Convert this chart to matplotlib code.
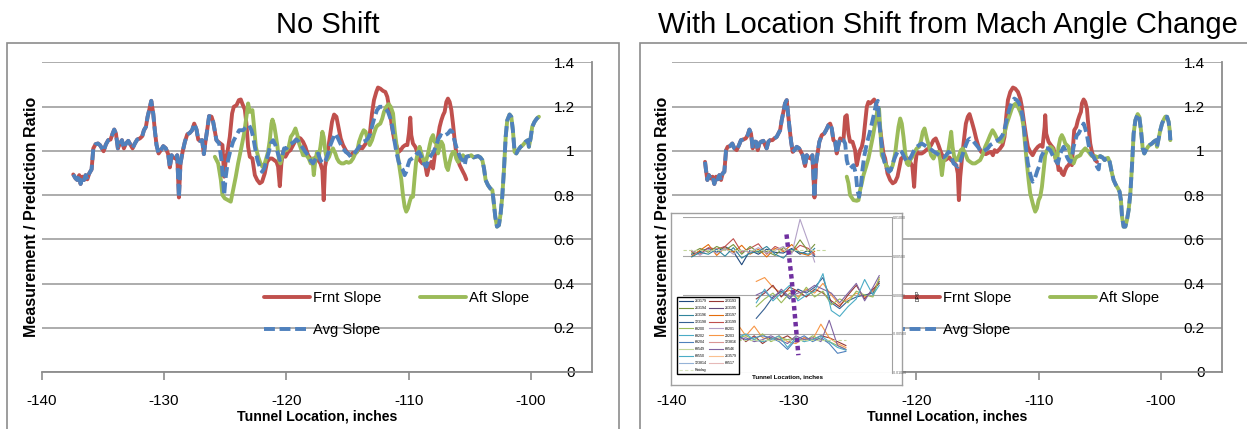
import numpy as np
import matplotlib.pyplot as plt
from matplotlib.lines import Line2D
from matplotlib.patches import Rectangle

# ---- main chart data (tunnel location, ratio) ----
# left panel "No Shift": head is shared by Frnt/Avg, tail by Aft/Avg
L_head = [(-137.42, 0.893), (-137.23, 0.875), (-137.09, 0.868), (-136.93, 0.890), (-136.82, 0.850),
          (-136.68, 0.883), (-136.54, 0.868), (-136.41, 0.890), (-136.27, 0.871), (-136.11, 0.898),
          (-135.92, 0.916), (-135.78, 1.011), (-135.59, 1.030), (-135.40, 1.033), (-135.24, 1.026),
          (-135.07, 1.011), (-134.94, 0.998), (-134.75, 1.029), (-134.56, 1.048), (-134.37, 1.051),
          (-134.20, 1.078), (-134.07, 1.096), (-133.93, 1.078), (-133.77, 1.011), (-133.60, 1.033),
          (-133.44, 1.048), (-133.28, 1.011), (-133.11, 1.033), (-132.92, 1.045), (-132.73, 1.026),
          (-132.57, 1.011), (-132.38, 1.033), (-132.19, 1.051), (-131.97, 1.056), (-131.78, 1.066),
          (-131.64, 1.093), (-131.48, 1.108), (-131.34, 1.154), (-131.21, 1.184), (-131.04, 1.226),
          (-130.88, 1.169), (-130.75, 1.093), (-130.61, 1.026), (-130.44, 0.988), (-130.25, 1.003),
          (-130.06, 1.021), (-129.85, 1.011), (-129.66, 0.985), (-129.52, 0.925), (-129.38, 0.980),
          (-129.25, 0.970), (-129.06, 0.965), (-128.92, 0.980), (-128.78, 0.789), (-128.65, 0.943),
          (-128.48, 0.995), (-128.29, 1.041), (-128.10, 1.074), (-127.89, 1.081), (-127.70, 1.093),
          (-127.53, 1.123), (-127.34, 1.096), (-127.20, 1.051), (-127.07, 1.045), (-126.88, 1.048),
          (-126.74, 0.985), (-126.61, 1.041), (-126.47, 1.093), (-126.31, 1.157), (-126.11, 1.154),
          (-125.98, 1.131), (-125.81, 1.078), (-125.71, 1.048)]
L_frnt = [(-125.57, 1.041), (-125.38, 1.033), (-125.22, 1.026), (-125.08, 0.883), (-124.95, 0.958),
          (-124.81, 0.995), (-124.62, 1.063), (-124.43, 1.169), (-124.29, 1.199), (-124.07, 1.206),
          (-123.88, 1.229), (-123.72, 1.232), (-123.58, 1.211), (-123.39, 1.187), (-123.26, 1.123),
          (-123.12, 1.018), (-122.98, 0.973), (-122.77, 0.965), (-122.57, 0.890), (-122.38, 0.868),
          (-122.17, 0.853), (-121.98, 0.860), (-121.76, 0.898), (-121.57, 0.950), (-121.35, 0.965),
          (-121.16, 0.965), (-120.99, 0.958), (-120.80, 0.950), (-120.67, 0.928), (-120.53, 0.840),
          (-120.40, 0.943), (-120.26, 0.995), (-120.07, 0.973), (-119.85, 0.995), (-119.66, 1.003),
          (-119.44, 1.026), (-119.23, 1.048), (-119.03, 1.060), (-118.84, 1.056), (-118.63, 1.041),
          (-118.44, 1.018), (-118.22, 0.980), (-118.03, 0.965), (-117.81, 0.961), (-117.62, 0.970),
          (-117.40, 0.958), (-117.21, 0.943), (-117.05, 0.913), (-116.94, 0.777), (-116.83, 0.928),
          (-116.67, 0.973), (-116.45, 1.056), (-116.26, 1.131), (-116.09, 1.164), (-115.90, 1.154),
          (-115.74, 1.108), (-115.55, 1.056), (-115.36, 1.026), (-115.14, 1.003), (-114.95, 0.988),
          (-114.73, 0.980), (-114.54, 0.991), (-114.35, 0.988), (-114.13, 1.003), (-113.94, 1.018),
          (-113.78, 1.011), (-113.59, 1.026), (-113.40, 1.041), (-113.18, 1.071), (-112.99, 1.169),
          (-112.83, 1.229), (-112.64, 1.266), (-112.50, 1.286), (-112.31, 1.281), (-112.09, 1.271),
          (-111.90, 1.266), (-111.74, 1.244), (-111.55, 1.184), (-111.36, 1.108), (-111.19, 1.056),
          (-111.00, 1.026), (-110.81, 0.995), (-110.65, 1.003), (-110.46, 1.018), (-110.27, 1.026),
          (-110.10, 1.026), (-109.97, 1.078), (-109.86, 1.150), (-109.78, 1.071), (-109.64, 1.033),
          (-109.45, 1.018), (-109.29, 0.995), (-109.10, 0.958), (-108.87, 0.943), (-108.68, 0.950),
          (-108.49, 0.890), (-108.33, 0.928), (-108.14, 0.950), (-108.00, 0.920), (-107.87, 0.973),
          (-107.73, 1.018), (-107.59, 1.063), (-107.46, 1.108), (-107.32, 1.138), (-107.18, 1.161),
          (-107.05, 1.176), (-106.91, 1.221), (-106.78, 1.236), (-106.64, 1.221), (-106.50, 1.184),
          (-106.37, 1.123), (-106.23, 1.048), (-106.10, 0.988), (-105.96, 0.958), (-105.82, 0.935),
          (-105.69, 0.920), (-105.55, 0.905), (-105.41, 0.890), (-105.28, 0.871)]
L_aft = [(-125.84, 0.973), (-125.57, 0.943), (-125.35, 0.868), (-125.22, 0.800), (-125.03, 0.785),
         (-124.76, 0.777), (-124.54, 0.770), (-124.35, 0.822), (-124.13, 0.883), (-123.94, 0.943),
         (-123.66, 1.018), (-123.45, 1.078), (-123.26, 1.154), (-123.12, 1.214), (-122.98, 1.176),
         (-122.77, 1.184), (-122.66, 1.123), (-122.49, 1.018), (-122.30, 0.973), (-122.11, 0.943),
         (-121.95, 0.928), (-121.81, 0.935), (-121.68, 0.958), (-121.49, 0.995), (-121.35, 1.048),
         (-121.21, 1.123), (-121.13, 1.141), (-120.99, 1.116), (-120.86, 1.071), (-120.72, 1.018),
         (-120.59, 0.958), (-120.48, 0.943), (-120.34, 0.973), (-120.18, 1.003), (-119.99, 1.003),
         (-119.80, 1.018), (-119.63, 1.063), (-119.44, 1.078), (-119.25, 1.101), (-119.09, 1.071),
         (-118.95, 1.033), (-118.76, 1.003), (-118.63, 0.980), (-118.35, 0.980), (-118.16, 0.965),
         (-118.00, 0.943), (-117.86, 0.965), (-117.75, 0.890), (-117.62, 0.958), (-117.48, 0.995),
         (-117.35, 0.973), (-117.21, 1.018), (-117.05, 1.086), (-116.94, 1.063), (-116.80, 0.995),
         (-116.67, 0.958), (-116.50, 0.973), (-116.37, 0.995), (-116.18, 1.011), (-115.99, 0.988),
         (-115.85, 0.965), (-115.69, 0.950), (-115.49, 0.943), (-115.30, 0.943), (-115.09, 0.950),
         (-114.90, 0.946), (-114.73, 0.950), (-114.54, 0.965), (-114.35, 0.988), (-114.21, 0.995),
         (-114.05, 1.041), (-113.86, 1.071), (-113.67, 1.093), (-113.51, 1.086), (-113.37, 1.056),
         (-113.18, 1.026), (-112.99, 1.048), (-112.83, 1.078), (-112.64, 1.108), (-112.50, 1.116),
         (-112.31, 1.123), (-112.15, 1.146), (-112.01, 1.176), (-111.82, 1.199), (-111.63, 1.211),
         (-111.46, 1.199), (-111.27, 1.169), (-111.14, 1.093), (-111.00, 1.033), (-110.87, 0.973),
         (-110.73, 0.920), (-110.59, 0.868), (-110.46, 0.800), (-110.32, 0.747), (-110.19, 0.725),
         (-110.05, 0.740), (-109.91, 0.770), (-109.78, 0.792), (-109.64, 0.792), (-109.50, 0.883),
         (-109.37, 0.958), (-109.23, 0.995), (-109.10, 1.018), (-108.87, 0.973), (-108.68, 0.943),
         (-108.55, 0.958), (-108.41, 0.988), (-108.27, 1.026), (-108.14, 1.056), (-108.00, 1.071),
         (-107.87, 1.041), (-107.73, 1.033), (-107.59, 0.988), (-107.46, 1.018), (-107.32, 1.041),
         (-107.18, 1.026), (-107.05, 0.973), (-106.91, 0.928), (-106.78, 0.913), (-106.64, 0.950),
         (-106.50, 0.980), (-106.37, 0.995), (-106.23, 0.995), (-106.10, 0.965), (-105.96, 0.950),
         (-105.82, 0.958), (-105.69, 0.970), (-105.55, 0.980), (-105.41, 0.965)]
L_avg = [(-125.49, 1.033), (-125.30, 0.958), (-125.17, 0.868), (-125.08, 0.800), (-124.95, 0.883),
         (-124.76, 0.958), (-124.56, 1.003), (-124.35, 1.041), (-124.07, 1.071), (-123.85, 1.093),
         (-123.53, 1.093), (-123.26, 1.108), (-123.04, 1.116), (-122.85, 1.093), (-122.71, 1.063),
         (-122.52, 1.003), (-122.36, 0.958), (-122.17, 0.928), (-121.98, 0.905), (-121.81, 0.920),
         (-121.62, 0.958), (-121.43, 0.995), (-121.27, 1.033), (-121.08, 1.048), (-120.89, 1.026),
         (-120.72, 0.995), (-120.53, 0.958), (-120.34, 0.973), (-120.18, 1.011), (-119.99, 1.011),
         (-119.80, 1.026), (-119.58, 1.033), (-119.36, 1.041), (-119.17, 1.051), (-118.98, 1.041),
         (-118.82, 1.026), (-118.63, 1.011), (-118.44, 0.995), (-118.22, 0.980), (-118.03, 0.958),
         (-117.81, 0.943), (-117.59, 0.965), (-117.40, 0.988), (-117.21, 0.958), (-116.99, 0.943),
         (-116.77, 0.958), (-116.58, 0.988), (-116.39, 1.026), (-116.18, 1.056), (-115.99, 1.078),
         (-115.77, 1.056), (-115.58, 1.033), (-115.36, 1.011), (-115.14, 0.995), (-114.95, 0.988),
         (-114.73, 0.973), (-114.54, 0.980), (-114.35, 0.995), (-114.13, 1.011), (-113.94, 1.026),
         (-113.72, 1.041), (-113.51, 1.045), (-113.32, 1.056), (-113.13, 1.078), (-112.96, 1.116),
         (-112.77, 1.154), (-112.58, 1.184), (-112.36, 1.199), (-112.15, 1.199), (-111.90, 1.191),
         (-111.68, 1.176), (-111.49, 1.146), (-111.33, 1.108), (-111.19, 1.056), (-111.00, 0.995),
         (-110.81, 0.950), (-110.65, 0.928), (-110.46, 0.913), (-110.32, 0.890), (-110.19, 0.905),
         (-110.05, 0.935), (-109.91, 0.958), (-109.72, 0.965), (-109.50, 0.973), (-109.31, 0.988),
         (-109.15, 0.995), (-108.96, 0.973), (-108.77, 0.943), (-108.55, 0.928), (-108.33, 0.965),
         (-108.14, 0.980), (-107.95, 0.995), (-107.73, 1.026), (-107.54, 1.056), (-107.37, 1.071),
         (-107.18, 1.063), (-106.99, 1.071), (-106.78, 1.078), (-106.58, 1.093), (-106.42, 1.086),
         (-106.29, 1.056), (-106.10, 1.018), (-105.90, 0.988), (-105.74, 0.965), (-105.55, 0.958),
         (-105.41, 0.935)]
L_tail = [(-105.28, 0.973), (-105.06, 0.976), (-104.87, 0.980), (-104.68, 0.970), (-104.52, 0.973),
          (-104.32, 0.976), (-104.13, 0.970), (-103.97, 0.958), (-103.83, 0.920), (-103.70, 0.868),
          (-103.51, 0.845), (-103.32, 0.830), (-103.15, 0.822), (-103.04, 0.770), (-102.91, 0.702),
          (-102.77, 0.657), (-102.61, 0.664), (-102.47, 0.717), (-102.34, 0.792), (-102.20, 0.913),
          (-102.06, 1.063), (-101.93, 1.138), (-101.74, 1.164), (-101.60, 1.154), (-101.47, 1.093),
          (-101.33, 0.995), (-101.19, 0.988), (-101.00, 1.006), (-100.84, 1.018), (-100.65, 1.026),
          (-100.43, 1.041), (-100.24, 1.048), (-100.16, 1.018), (-100.02, 1.056), (-99.89, 1.108),
          (-99.70, 1.131), (-99.51, 1.146), (-99.34, 1.154)]

# right panel "With Location Shift from Mach Angle Change"
R_head = [(-137.28, 0.950), (-137.20, 0.913), (-137.09, 0.868), (-136.96, 0.890), (-136.82, 0.875),
          (-136.66, 0.883), (-136.52, 0.850), (-136.38, 0.883), (-136.25, 0.871), (-136.11, 0.890),
          (-135.97, 0.868), (-135.84, 0.898), (-135.70, 0.905), (-135.56, 1.003), (-135.43, 1.018),
          (-135.24, 1.021), (-135.05, 1.033), (-134.88, 1.011), (-134.69, 1.003), (-134.50, 1.026),
          (-134.34, 1.048), (-134.15, 1.051), (-133.95, 1.056), (-133.79, 1.071), (-133.65, 1.096),
          (-133.52, 1.078), (-133.38, 1.011), (-133.24, 1.041), (-133.11, 1.041), (-132.97, 1.003),
          (-132.84, 1.033), (-132.70, 1.041), (-132.51, 1.045), (-132.37, 1.026), (-132.24, 1.011),
          (-132.10, 1.041), (-131.96, 1.048), (-131.77, 1.048), (-131.61, 1.056), (-131.42, 1.063),
          (-131.28, 1.078), (-131.14, 1.093), (-131.01, 1.138), (-130.87, 1.176), (-130.74, 1.214),
          (-130.60, 1.229), (-130.52, 1.184), (-130.38, 1.108), (-130.24, 1.041), (-130.11, 0.995),
          (-129.97, 1.003), (-129.78, 1.018), (-129.59, 1.011), (-129.43, 0.995), (-129.29, 0.980),
          (-129.10, 0.931), (-128.96, 0.980), (-128.83, 0.970), (-128.63, 0.965), (-128.50, 0.980),
          (-128.33, 0.789), (-128.20, 0.943), (-128.06, 0.995), (-127.93, 1.041), (-127.73, 1.071),
          (-127.54, 1.078), (-127.38, 1.093), (-127.19, 1.116), (-127.05, 1.123), (-126.92, 1.101),
          (-126.78, 1.048), (-126.64, 1.041), (-126.51, 0.988), (-126.37, 1.026), (-126.23, 1.056),
          (-126.10, 1.048), (-125.96, 1.048)]
R_frnt = [(-125.82, 1.154), (-125.69, 1.161), (-125.55, 1.078), (-125.42, 1.041), (-125.22, 1.041),
          (-125.01, 1.003), (-124.87, 0.935), (-124.73, 0.973), (-124.60, 1.003), (-124.46, 1.018),
          (-124.32, 1.056), (-124.19, 1.123), (-124.05, 1.199), (-123.92, 1.221), (-123.78, 1.214),
          (-123.64, 1.221), (-123.45, 1.232), (-123.29, 1.214), (-123.10, 1.154), (-122.91, 1.078),
          (-122.69, 0.988), (-122.55, 0.965), (-122.36, 0.898), (-122.14, 0.868), (-121.93, 0.853),
          (-121.73, 0.860), (-121.54, 0.883), (-121.38, 0.928), (-121.24, 0.965), (-121.05, 0.973),
          (-120.92, 0.973), (-120.72, 0.965), (-120.51, 0.950), (-120.32, 0.928), (-120.18, 0.837),
          (-120.07, 0.943), (-119.96, 0.995), (-119.77, 0.988), (-119.55, 0.988), (-119.36, 0.995),
          (-119.20, 1.003), (-119.01, 1.011), (-118.79, 1.026), (-118.60, 1.048), (-118.41, 1.056),
          (-118.19, 1.026), (-118.00, 0.995), (-117.83, 0.973), (-117.64, 0.958), (-117.45, 0.965),
          (-117.29, 0.970), (-117.15, 0.958), (-116.96, 0.950), (-116.74, 0.935), (-116.61, 0.898),
          (-116.52, 0.777), (-116.41, 0.883), (-116.28, 0.958), (-116.14, 1.033), (-115.95, 1.123),
          (-115.79, 1.154), (-115.65, 1.166), (-115.46, 1.131), (-115.27, 1.093), (-115.11, 1.056),
          (-114.91, 1.018), (-114.70, 0.995), (-114.50, 0.988), (-114.31, 0.985), (-114.10, 0.991),
          (-113.90, 0.995), (-113.74, 0.980), (-113.60, 1.003), (-113.41, 0.995), (-113.14, 1.011),
          (-112.95, 1.026), (-112.79, 1.063), (-112.65, 1.154), (-112.51, 1.229), (-112.32, 1.266),
          (-112.10, 1.286), (-111.91, 1.281), (-111.69, 1.266), (-111.50, 1.236), (-111.37, 1.199),
          (-111.18, 1.123), (-111.04, 1.071), (-110.88, 1.018), (-110.69, 0.995), (-110.49, 0.980),
          (-110.28, 1.003), (-110.06, 1.018), (-109.87, 1.026), (-109.68, 1.018), (-109.51, 1.108),
          (-109.46, 1.161), (-109.38, 1.078), (-109.19, 1.041), (-109.00, 1.026), (-108.78, 1.011),
          (-108.59, 0.958), (-108.42, 0.935), (-108.37, 0.913), (-108.23, 0.920), (-108.10, 0.898),
          (-107.96, 0.890), (-107.82, 0.913), (-107.69, 0.928), (-107.55, 0.935), (-107.41, 0.950),
          (-107.28, 0.935), (-107.19, 1.018), (-107.09, 1.093), (-106.92, 1.108), (-106.79, 1.138),
          (-106.65, 1.161), (-106.54, 1.176), (-106.46, 1.214), (-106.32, 1.232), (-106.19, 1.221),
          (-106.05, 1.191), (-105.97, 1.138), (-105.86, 1.078), (-105.78, 1.033), (-105.64, 0.995),
          (-105.50, 0.973), (-105.37, 0.958), (-105.23, 0.950)]
R_aft = [(-125.69, 0.883), (-125.55, 0.853), (-125.42, 0.800), (-125.14, 0.777), (-124.87, 0.774),
         (-124.73, 0.777), (-124.60, 0.822), (-124.46, 0.853), (-124.32, 0.890), (-124.11, 0.928),
         (-123.92, 0.965), (-123.72, 1.018), (-123.56, 1.063), (-123.42, 1.108), (-123.31, 1.146),
         (-123.18, 1.184), (-123.05, 1.191), (-122.95, 1.100), (-122.83, 0.980), (-122.63, 0.958),
         (-122.47, 0.935), (-122.28, 0.920), (-122.09, 0.913), (-121.93, 0.935), (-121.73, 0.988),
         (-121.60, 1.048), (-121.46, 1.108), (-121.32, 1.146), (-121.19, 1.123), (-121.05, 1.063),
         (-120.92, 0.995), (-120.78, 0.943), (-120.64, 0.935), (-120.51, 0.958), (-120.32, 0.973),
         (-120.15, 0.995), (-119.96, 1.011), (-119.77, 1.018), (-119.61, 1.048), (-119.47, 1.086),
         (-119.33, 1.101), (-119.14, 1.056), (-118.95, 1.018), (-118.79, 0.980), (-118.60, 0.965),
         (-118.41, 0.988), (-118.19, 0.995), (-118.05, 0.958), (-117.91, 0.890), (-117.78, 0.950),
         (-117.56, 0.973), (-117.37, 1.003), (-117.23, 1.056), (-117.15, 1.086), (-117.04, 1.018),
         (-116.88, 0.965), (-116.69, 0.958), (-116.50, 0.980), (-116.36, 1.003), (-116.20, 1.011),
         (-116.01, 0.988), (-115.79, 0.958), (-115.60, 0.950), (-115.41, 0.943), (-115.19, 0.943),
         (-115.00, 0.950), (-114.78, 0.958), (-114.59, 0.980), (-114.37, 1.018), (-114.18, 1.041),
         (-113.96, 1.071), (-113.77, 1.093), (-113.60, 1.078), (-113.41, 1.056), (-113.22, 1.041),
         (-113.00, 1.041), (-112.87, 1.063), (-112.73, 1.093), (-112.60, 1.123), (-112.46, 1.146),
         (-112.32, 1.169), (-112.19, 1.191), (-112.05, 1.206), (-111.86, 1.214), (-111.69, 1.199),
         (-111.50, 1.176), (-111.37, 1.154), (-111.23, 1.108), (-111.09, 1.018), (-110.96, 0.943),
         (-110.82, 0.868), (-110.69, 0.807), (-110.55, 0.777), (-110.41, 0.747), (-110.28, 0.725),
         (-110.14, 0.740), (-110.00, 0.777), (-109.87, 0.792), (-109.73, 0.837), (-109.59, 0.913),
         (-109.46, 0.980), (-109.32, 1.003), (-109.05, 1.018), (-108.86, 1.011), (-108.69, 0.980),
         (-108.50, 0.950), (-108.37, 1.018), (-108.23, 1.056), (-108.10, 1.071), (-107.96, 1.056),
         (-107.82, 1.033), (-107.69, 1.026), (-107.55, 1.018), (-107.41, 0.980), (-107.28, 0.958),
         (-107.14, 0.943), (-107.00, 0.965), (-106.87, 0.973), (-106.73, 0.976), (-106.59, 0.980),
         (-106.46, 0.995), (-106.32, 1.003), (-106.19, 1.011), (-106.05, 1.003), (-105.91, 0.995),
         (-105.78, 0.985), (-105.64, 0.976), (-105.50, 0.973), (-105.37, 0.976), (-105.23, 0.970)]
R_avg = [(-125.82, 1.033), (-125.69, 0.958), (-125.55, 0.928), (-125.42, 0.920), (-125.14, 0.935),
         (-124.95, 0.898), (-124.82, 0.822), (-124.68, 0.792), (-124.54, 0.837), (-124.41, 0.913),
         (-124.27, 0.973), (-124.05, 1.033), (-123.83, 1.078), (-123.64, 1.123), (-123.45, 1.169),
         (-123.29, 1.214), (-123.15, 1.226), (-123.02, 1.123), (-122.88, 1.048), (-122.74, 0.988),
         (-122.61, 0.950), (-122.42, 0.920), (-122.23, 0.905), (-122.09, 0.913), (-121.93, 0.943),
         (-121.73, 0.973), (-121.54, 0.995), (-121.38, 1.003), (-121.19, 0.995), (-121.00, 0.973),
         (-120.78, 0.950), (-120.59, 0.958), (-120.37, 0.980), (-120.18, 1.003), (-119.96, 1.018),
         (-119.77, 1.026), (-119.55, 1.033), (-119.36, 1.026), (-119.14, 1.018), (-118.92, 1.011),
         (-118.73, 1.003), (-118.54, 0.995), (-118.32, 0.988), (-118.13, 0.980), (-117.97, 0.973),
         (-117.78, 0.970), (-117.56, 0.980), (-117.37, 0.995), (-117.23, 0.988), (-117.10, 0.965),
         (-116.96, 0.943), (-116.77, 0.935), (-116.61, 0.928), (-116.47, 0.943), (-116.33, 0.965),
         (-116.14, 0.995), (-115.95, 1.026), (-115.79, 1.048), (-115.60, 1.056), (-115.41, 1.048),
         (-115.19, 1.033), (-114.97, 1.018), (-114.78, 1.003), (-114.59, 0.995), (-114.37, 1.003),
         (-114.15, 1.011), (-113.96, 1.026), (-113.74, 1.033), (-113.55, 1.041), (-113.33, 1.048),
         (-113.14, 1.056), (-112.95, 1.071), (-112.81, 1.093), (-112.68, 1.123), (-112.54, 1.161),
         (-112.38, 1.191), (-112.19, 1.221), (-111.99, 1.236), (-111.78, 1.229), (-111.59, 1.214),
         (-111.45, 1.191), (-111.31, 1.154), (-111.18, 1.093), (-111.04, 1.018), (-110.90, 0.950),
         (-110.77, 0.913), (-110.63, 0.883), (-110.49, 0.860), (-110.36, 0.868), (-110.22, 0.890),
         (-110.09, 0.913), (-109.92, 0.935), (-109.79, 0.973), (-109.59, 0.995), (-109.40, 1.011),
         (-109.24, 1.011), (-109.05, 1.003), (-108.86, 0.980), (-108.64, 0.958), (-108.42, 0.943),
         (-108.23, 0.988), (-108.10, 1.003), (-107.96, 1.018), (-107.82, 1.003), (-107.69, 0.973),
         (-107.55, 0.958), (-107.41, 0.950), (-107.28, 0.973), (-107.14, 1.018), (-107.00, 1.048),
         (-106.87, 1.071), (-106.73, 1.078), (-106.59, 1.093), (-106.46, 1.108), (-106.32, 1.123),
         (-106.19, 1.101), (-106.05, 1.071), (-105.91, 1.026), (-105.78, 0.995), (-105.64, 0.980),
         (-105.50, 0.973), (-105.37, 0.958), (-105.23, 0.928), (-105.09, 0.916)]
R_tail = [(-104.96, 0.976), (-104.77, 0.970), (-104.60, 0.958), (-104.47, 0.965), (-104.33, 0.968),
          (-104.19, 0.950), (-104.00, 0.898), (-103.87, 0.868), (-103.68, 0.845), (-103.51, 0.830),
          (-103.38, 0.815), (-103.27, 0.777), (-103.18, 0.702), (-103.05, 0.657), (-102.91, 0.657),
          (-102.78, 0.687), (-102.64, 0.732), (-102.50, 0.807), (-102.37, 0.928), (-102.23, 1.078),
          (-102.09, 1.138), (-101.90, 1.166), (-101.77, 1.154), (-101.63, 1.093), (-101.49, 1.011),
          (-101.36, 0.988), (-101.22, 1.003), (-101.06, 1.018), (-100.92, 1.026), (-100.73, 1.033),
          (-100.59, 1.041), (-100.40, 1.048), (-100.32, 1.018), (-100.18, 1.056), (-100.05, 1.093),
          (-99.91, 1.123), (-99.77, 1.141), (-99.64, 1.154), (-99.50, 1.154), (-99.37, 1.131),
          (-99.28, 1.093), (-99.23, 1.048)]

x_ticks = [-140, -130, -120, -110, -100]
x_labels = ['-140', '-130', '-120', '-110', '-100']
y_ticks = [0, 0.2, 0.4, 0.6, 0.8, 1.0, 1.2, 1.4]
y_labels = ['0', '0.2', '0.4', '0.6', '0.8', '1', '1.2', '1.4']

# ---- pasted inset picture (DP/P runs, three bands) ----
ins1_x = [4, 8, 12, 16, 20, 24, 28, 32, 36, 40, 44, 48, 52, 56, 60, 63]
ins1_a = [1.05, 1.12, 1.20, 1.10, 1.25, 1.12, 0.78, 1.15, 1.05, 1.18, 1.10, 1.08, 1.20, 1.05, 1.15, 1.00]
ins1_b = [1.00, 1.15, 1.30, 1.02, 1.22, 1.10, 1.28, 1.05, 1.18, 0.98, 1.20, 1.12, 1.30, 1.08, 1.02, 1.12]
ins1_c = [1.12, 1.05, 1.22, 1.18, 1.25, 1.45, 1.10, 1.20, 1.32, 1.05, 1.25, 1.15, 1.10, 1.28, 1.20, 1.05]
ins1_d = [1.08, 1.20, 1.10, 1.25, 1.15, 1.30, 1.05, 1.25, 1.10, 1.12, 1.02, 1.22, 1.10, 1.42, 1.12, 1.30]
ins1_e = [1.15, 1.02, 1.18, 1.08, 1.20, 1.05, 1.15, 1.10, 1.22, 1.08, 1.15, 1.25, 1.05, 1.95, 1.35, 0.85]
ins1_f = [0.98, 1.10, 1.05, 1.18, 1.00, 1.22, 0.95, 1.08, 1.12, 1.25, 1.05, 0.95, 1.18, 1.10, 1.05, 1.20]
ins2_x = [35, 39, 43, 47, 51, 55, 59, 63, 67, 71, 75, 79, 83, 87, 91, 94]
ins2_a = [0.35, 0.45, 0.20, 0.05, 0.12, -0.05, 0.15, 0.05, 0.30, 0.00, -0.25, -0.10, 0.05, -0.05, 0.10, 0.40]
ins2_b = [-0.60, -0.35, -0.05, 0.10, -0.10, 0.15, 0.05, 0.20, 0.45, -0.20, -0.35, -0.15, -0.05, 0.00, 0.05, 0.35]
ins2_c = [-0.10, 0.05, 0.25, -0.05, 0.20, 0.10, -0.05, 0.15, 0.05, -0.15, -0.30, 0.00, 0.25, -0.10, 0.15, 0.30]
ins2_d = [-0.30, -0.10, 0.05, -0.20, 0.05, -0.10, 0.20, -0.05, 0.10, -0.25, -0.10, -0.20, 0.10, 0.00, -0.05, 0.45]
ins2_e = [0.00, 0.10, -0.10, 0.15, -0.05, 0.05, 0.10, 0.25, 0.15, 0.05, -0.20, 0.05, 0.30, -0.15, 0.20, 0.50]
ins2_f = [-0.20, 0.15, -0.15, 0.05, 0.25, -0.15, 0.00, 0.10, 0.55, -0.40, -0.55, -0.30, -0.10, 0.40, 0.00, 0.25]
ins3_x = [26, 30, 34, 38, 42, 46, 50, 54, 58, 62, 66, 70, 74, 78]
ins3_a = [-1.00, -1.20, -1.05, -1.25, -1.10, -1.15, -1.05, -1.20, -1.10, -1.15, -1.05, -1.10, -1.20, -1.30]
ins3_b = [-0.75, -1.05, -0.80, -1.10, -1.15, -1.05, -1.20, -1.25, -1.10, -1.15, -0.75, -1.10, -1.25, -1.35]
ins3_c = [-1.10, -1.05, -1.15, -1.00, -1.20, -1.10, -1.15, -1.10, -1.20, -1.05, -1.15, -1.20, -1.30, -1.40]
ins3_d = [-1.05, -1.15, -1.10, -1.05, -1.10, -1.20, -1.40, -1.15, -1.05, -1.20, -1.10, -1.25, -1.50, -1.45]
ins3_e = [-1.15, -1.10, -1.20, -1.15, -1.05, -1.15, -1.25, -1.05, -1.15, -1.10, -1.20, -0.65, -1.30, -1.40]
ins3_f = [-1.10, -1.00, -1.15, -1.20, -1.15, -1.05, -1.35, -1.10, -1.20, -1.15, -1.05, -1.20, -1.35, -1.42]
ratdag_top = ([0, 69], [1.17, 1.17])
ratdag_bot = ([26, 78], [-1.16, -1.16])
shift_path = ([49.5, 52.0, 55.2], [1.56, 0.40, -1.55])
ins_yticks = [-2, -1, 0, 1, 2]
ins_ylabels = ['-0.01000', '-0.00500', '0.00000', '0.00500', '0.01000']
run_labels = ['263179', '263194', '263196', '123198', '69200', '69202', '69204', '69549', '69550',
              '123814', 'Ratdag', '223193', '263195', '243197', '263199', '69201', '29203', '123816',
              '69546', '263579', '69517']
run_colors = ['#1F497D', '#77933C', '#31859C', '#366092', '#9BBB59', '#4BACC6', '#4F81BD', '#C3D69B',
              '#4BACC6', '#95B3D7', '#D7E4BD', '#953735', '#604A7B', '#E46C0A', '#C0504D', '#B3A2C7',
              '#F79646', '#D99694', '#8064A2', '#FAC090', '#E6B9B8']

RED, GREEN, BLUE = '#C0504D', '#9BBB59', '#4F81BD'
GRID = '#A6A6A6'
plt.rcParams['font.family'] = ['Liberation Sans', 'DejaVu Sans']

fig = plt.figure(figsize=(12.47, 4.29), dpi=100)

# outer chart-area frames
fig.add_artist(Rectangle((0.006, -0.05), 0.49, 0.95, transform=fig.transFigure,
                         fill=False, ec='#8C8C8C', lw=1.2))
fig.add_artist(Rectangle((0.5132, -0.05), 0.5, 0.95, transform=fig.transFigure,
                         fill=False, ec='#8C8C8C', lw=1.2))


def xy(pts):
    a = np.array(pts)
    return a[:, 0], a[:, 1]


def panel(left, head, frnt, aft, avg, tail):
    ax = fig.add_axes([left, 0.1329, 0.4413, 0.7226])
    hx, hy = xy(head)
    fx, fy = xy(frnt)
    gx, gy = xy(aft)
    vx, vy = xy(avg)
    tx, ty = xy(tail)
    kw = dict(lw=2.8, solid_joinstyle='round', solid_capstyle='round')
    l1, = ax.plot(np.r_[hx, fx], np.r_[hy, fy], color=RED, label='Frnt Slope', **kw)
    l2, = ax.plot(np.r_[gx, tx], np.r_[gy, ty], color=GREEN, label='Aft Slope', **kw)
    l3, = ax.plot(np.r_[hx, vx, tx], np.r_[hy, vy, ty], color=BLUE, lw=2.8,
                  ls=(0, (2.8, 1.2)), dash_capstyle='butt', label='Avg Slope')
    ax.set_xlim(-140, -95)
    ax.set_ylim(0, 1.4015)
    for s in ['left', 'top']:
        ax.spines[s].set_visible(False)
    for s in ['bottom', 'right']:
        ax.spines[s].set_color('#8C8C8C')
        ax.spines[s].set_linewidth(1.3)
    ax.set_xticks(x_ticks)
    ax.set_xticklabels(x_labels)
    ax.set_yticks(y_ticks)
    ax.set_yticklabels(y_labels)
    ax.yaxis.tick_right()
    ax.tick_params(axis='x', direction='out', length=6, width=1.2, color='#8C8C8C',
                   labelsize=11, pad=10)
    ax.tick_params(axis='y', length=0, labelsize=11, pad=-12.5)
    for t in ax.yaxis.get_major_ticks():
        t.label2.set_horizontalalignment('right')
    ax.grid(axis='y', color=GRID, lw=1.3)
    ax.set_axisbelow(True)
    ax.yaxis.set_label_position('left')
    ax.set_ylabel('Measurement / Prediction Ratio', fontsize=11.5, fontweight='bold')
    ax.yaxis.set_label_coords(-0.004, 0.5)
    ax.set_xlabel('Tunnel Location, inches', fontsize=10.2, fontweight='bold')
    ax.xaxis.set_label_coords(0.5, -0.122)
    ax.legend(handles=[l1, l3, l2], ncol=2, loc='upper left', bbox_to_anchor=(0.404, 0.26),
              frameon=False, fontsize=10.6, borderpad=0, borderaxespad=0, handlelength=3.1,
              handletextpad=0.25, columnspacing=2.6, labelspacing=1.2)
    return ax


axL = panel(0.03344, L_head, L_frnt, L_aft, L_avg, L_tail)
axR = panel(0.5387, R_head, R_frnt, R_aft, R_avg, R_tail)

fig.text(0.2626, 0.923, 'No Shift', ha='center', va='baseline', fontsize=21)
fig.text(0.7598, 0.923, 'With Location Shift from Mach Angle Change', ha='center',
         va='baseline', fontsize=21)

# inset picture on the right panel
box = fig.add_axes([0.5378, 0.1026, 0.1852, 0.4009], zorder=5)
box.set_xticks([])
box.set_yticks([])
box.set_facecolor('white')
for s in box.spines.values():
    s.set_color('#A0A0A0')
    s.set_linewidth(1)

ins = fig.add_axes([0.5480, 0.1312, 0.1671, 0.3622], zorder=6)
ins.set_facecolor('none')
ins.set_xlim(0, 100)
ins.set_ylim(-2, 2)
bands = [(ins1_x, [ins1_a, ins1_b, ins1_c, ins1_d, ins1_e, ins1_f],
          ['#1F497D', '#E46C0A', '#C0504D', '#77933C', '#B3A2C7', '#31859C']),
         (ins2_x, [ins2_a, ins2_b, ins2_c, ins2_d, ins2_e, ins2_f],
          ['#F79646', '#366092', '#953735', '#9BBB59', '#8064A2', '#4BACC6']),
         (ins3_x, [ins3_a, ins3_b, ins3_c, ins3_d, ins3_e, ins3_f],
          ['#953735', '#F79646', '#9BBB59', '#4F81BD', '#8064A2', '#4BACC6'])]
for bx, series, cols in bands:
    for vals, c in zip(series, cols):
        ins.plot(bx, vals, color=c, lw=0.8)
ins.plot(*ratdag_top, color='#C3D69B', lw=0.8, ls=(0, (3, 2)))
ins.plot(*ratdag_bot, color='#C3D69B', lw=0.8, ls=(0, (3, 2)))
ins.plot(*shift_path, color='#7030A0', lw=3.2, ls=(0, (1, 0.8)), dash_capstyle='butt')
ins.set_yticks(ins_yticks)
ins.set_yticklabels(ins_ylabels)
ins.set_xticks([])
ins.yaxis.tick_right()
ins.tick_params(axis='y', length=0, labelsize=2.5, pad=1, labelcolor='#606060')
ins.grid(axis='y', color=GRID, lw=0.8)
for s in ['left', 'top', 'bottom']:
    ins.spines[s].set_visible(False)
ins.spines['right'].set_color('#A0A0A0')
ins.spines['right'].set_linewidth(0.8)
ins.yaxis.set_label_position('right')
ins.set_ylabel('DP/P', fontsize=3.5, labelpad=6)
ins.set_xlabel('Tunnel Location, inches', fontsize=4.5, fontweight='bold', labelpad=1)
proxies = [Line2D([], [], color=c, lw=0.8, ls=(0, (3, 2)) if lab == 'Ratdag' else '-')
           for lab, c in zip(run_labels, run_colors)]
ins.legend(proxies, run_labels, ncol=2, loc='upper left', bbox_to_anchor=(0.5427, 0.307),
           bbox_transform=fig.transFigure, fontsize=2.6, frameon=True, fancybox=False,
           framealpha=1, edgecolor='black', handlelength=4.0, handletextpad=0.5,
           columnspacing=0.5, labelspacing=0.8, borderpad=0.5, borderaxespad=0)

fig.savefig('out.png', dpi=100)
